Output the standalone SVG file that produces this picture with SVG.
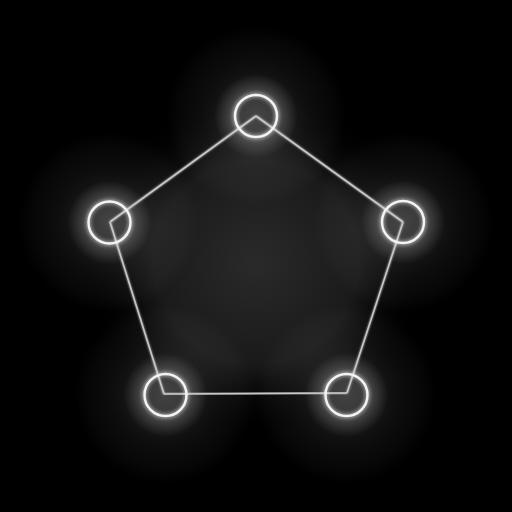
<svg xmlns="http://www.w3.org/2000/svg" width="512" height="512" viewBox="0 0 512 512">
  <defs>
    <radialGradient id="center" cx="0.5" cy="0.5" r="0.5">
      <stop offset="0" stop-color="#2a2a2a"/>
      <stop offset="0.6" stop-color="#1a1a1a"/>
      <stop offset="1" stop-color="#000" stop-opacity="0"/>
    </radialGradient>
    <radialGradient id="halo" cx="0.5" cy="0.5" r="0.5">
      <stop offset="0" stop-color="#fff" stop-opacity="0.16"/>
      <stop offset="0.3" stop-color="#fff" stop-opacity="0.1"/>
      <stop offset="0.6" stop-color="#fff" stop-opacity="0.05"/>
      <stop offset="0.85" stop-color="#fff" stop-opacity="0.025"/>
      <stop offset="1" stop-color="#fff" stop-opacity="0"/>
    </radialGradient>
    <radialGradient id="inner" cx="0.5" cy="0.5" r="0.5">
      <stop offset="0" stop-color="#fff" stop-opacity="0.12"/>
      <stop offset="0.45" stop-color="#fff" stop-opacity="0.12"/>
      <stop offset="0.55" stop-color="#fff" stop-opacity="0.2"/>
      <stop offset="1" stop-color="#fff" stop-opacity="0"/>
    </radialGradient>
    <filter id="glow" x="-50%" y="-50%" width="200%" height="200%">
      <feGaussianBlur stdDeviation="2" result="b"/>
      <feMerge><feMergeNode in="b"/><feMergeNode in="SourceGraphic"/></feMerge>
    </filter>
    <filter id="soft" x="-20%" y="-20%" width="140%" height="140%">
      <feGaussianBlur stdDeviation="0.8" result="b"/>
      <feMerge><feMergeNode in="b"/><feMergeNode in="SourceGraphic"/></feMerge>
    </filter>
  </defs>
  <style>
    .halo { fill: url(#halo); }
    .inner { fill: url(#inner); }
    .ring { fill: none; stroke: #f4f4f4; stroke-width: 2.4; filter: url(#glow); }
    .edge { fill: none; stroke: #c8c8c8; stroke-width: 1.6; stroke-linejoin: round; filter: url(#soft); }
  </style>
  <rect width="512" height="512" fill="#000"/>
  <circle cx="256" cy="262" r="170" fill="url(#center)"/>
  <g id="halos">
    <circle class="halo" cx="256" cy="116" r="90"/>
    <circle class="halo" cx="403" cy="222" r="90"/>
    <circle class="halo" cx="346" cy="394" r="90"/>
    <circle class="halo" cx="165" cy="394" r="90"/>
    <circle class="halo" cx="109" cy="222" r="90"/>
    <circle class="inner" cx="256" cy="116" r="42"/>
    <circle class="inner" cx="403" cy="222" r="42"/>
    <circle class="inner" cx="346.5" cy="395" r="42"/>
    <circle class="inner" cx="165.5" cy="395" r="42"/>
    <circle class="inner" cx="109.5" cy="222.5" r="42"/>
  </g>
  <g id="connectors">
    <line class="edge" x1="256" y1="116" x2="403" y2="222"/>
    <line class="edge" x1="403" y1="222" x2="347" y2="393"/>
    <line class="edge" x1="347" y1="393" x2="164" y2="394"/>
    <line class="edge" x1="164" y1="394" x2="110" y2="222"/>
    <line class="edge" x1="110" y1="222" x2="256" y2="116"/>
  </g>
  <g id="node-top"><circle class="ring" cx="256" cy="116" r="21"/></g>
  <g id="node-right"><circle class="ring" cx="403" cy="222" r="21"/></g>
  <g id="node-bottom-right"><circle class="ring" cx="346.5" cy="395" r="21"/></g>
  <g id="node-bottom-left"><circle class="ring" cx="165.5" cy="395" r="21"/></g>
  <g id="node-left"><circle class="ring" cx="109.5" cy="222.5" r="21"/></g>
</svg>
